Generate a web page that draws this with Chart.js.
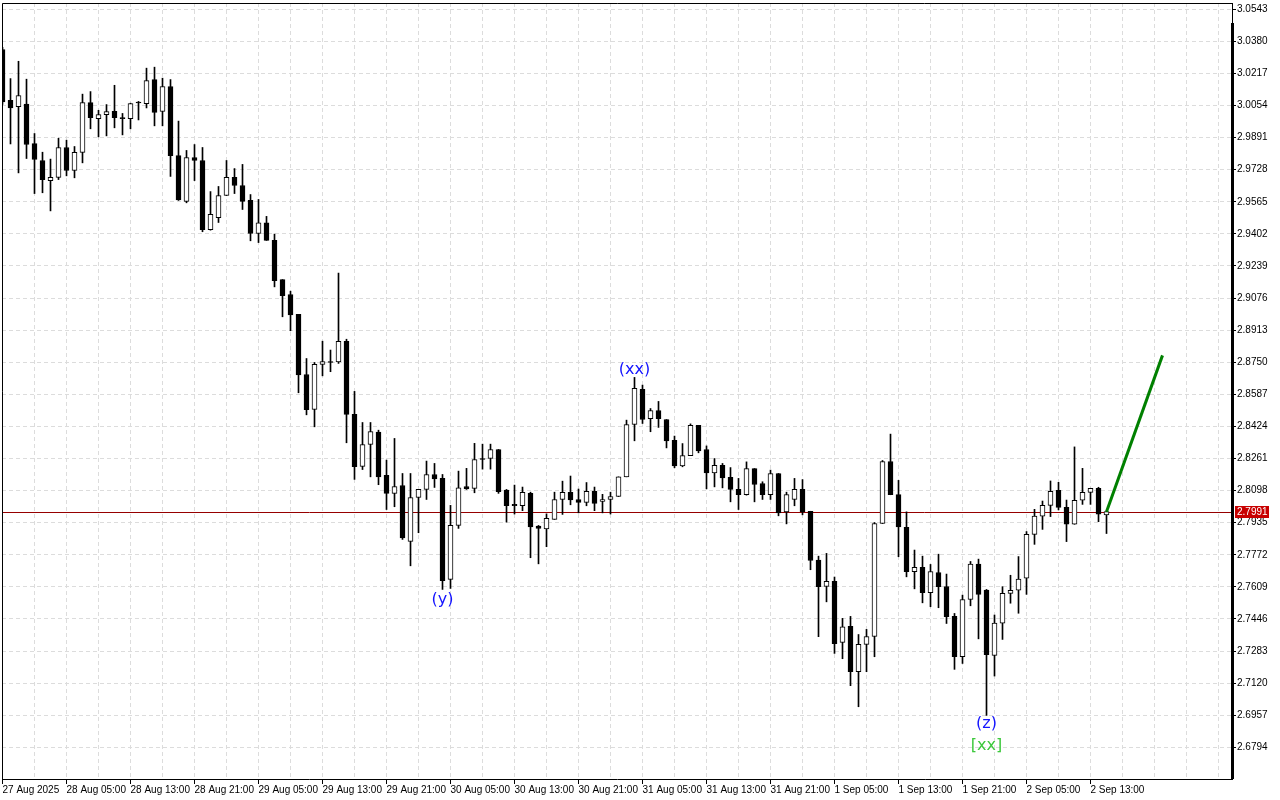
<!DOCTYPE html>
<html>
<head>
<meta charset="utf-8">
<title>H1 chart</title>
<script src="https://cdn.jsdelivr.net/npm/chart.js@4.4.1/dist/chart.umd.min.js"></script>
<style>
    html, body { margin: 0; padding: 0; background: #fff; overflow: hidden; }
    #wrap { width: 1280px; height: 800px; }
</style>
</head>
<body>
<div id="wrap"><canvas id="priceChart"></canvas></div>
<script>
// H1 candles (bar 0 = 27 Aug 21:00)
const opens = [
    3.0339, 3.0080, 3.0049, 3.0061, 2.9861, 2.9775, 2.9673, 2.9689, 2.9841, 2.9724,
    2.9816, 3.0069, 2.9988, 3.0008, 3.0025, 2.9988, 2.9988, 3.0067, 3.0064, 3.0186,
    3.0024, 3.0151, 2.9800, 2.9567, 2.9790, 2.9775, 2.9424, 2.9485, 2.9597, 2.9689,
    2.9648, 2.9572, 2.9404, 2.9458, 2.9370, 2.9170, 2.9094, 2.8993, 2.8688, 2.8510,
    2.8739, 2.8752, 2.8752, 2.8856, 2.8485, 2.8221, 2.8332, 2.8395, 2.8175, 2.8084,
    2.8124, 2.7840, 2.8063, 2.8104, 2.8180, 2.8160, 2.7647, 2.7921, 2.8119, 2.8109,
    2.8261, 2.8261, 2.8307, 2.8101, 2.8028, 2.8021, 2.8084, 2.7918, 2.7904, 2.7952,
    2.8053, 2.8089, 2.8053, 2.8038, 2.8094, 2.8043, 2.8053, 2.8068, 2.8168, 2.8434,
    2.8612, 2.8464, 2.8505, 2.8459, 2.8353, 2.8224, 2.8276, 2.8429, 2.8307, 2.8188,
    2.8226, 2.8165, 2.8104, 2.8078, 2.8210, 2.8134, 2.8078, 2.8185, 2.7990, 2.8053,
    2.8104, 2.7993, 2.7745, 2.7611, 2.7637, 2.7327, 2.7408, 2.7178, 2.7317, 2.7357,
    2.7931, 2.8246, 2.8078, 2.7911, 2.7686, 2.7708, 2.7579, 2.7682, 2.7611, 2.7459,
    2.7254, 2.7545, 2.7725, 2.7593, 2.7261, 2.7425, 2.7576, 2.7592, 2.7653, 2.7876,
    2.7968, 2.8023, 2.8100, 2.8013, 2.7927, 2.8049, 2.8089, 2.8110, 2.7975
];
const highs = [
    3.0350, 3.0191, 3.0279, 3.0188, 2.9912, 2.9817, 2.9782, 2.9888, 2.9878, 2.9846,
    3.0112, 3.0125, 3.0030, 3.0059, 3.0157, 3.0014, 3.0066, 3.0075, 3.0244, 3.0249,
    3.0193, 3.0186, 2.9975, 2.9826, 2.9856, 2.9841, 2.9617, 2.9643, 2.9775, 2.9734,
    2.9755, 2.9602, 2.9577, 2.9491, 2.9401, 2.9170, 2.9111, 2.8993, 2.8769, 2.8749,
    2.8857, 2.8812, 2.9203, 2.8867, 2.8602, 2.8444, 2.8444, 2.8405, 2.8253, 2.8363,
    2.8185, 2.8185, 2.8104, 2.8248, 2.8236, 2.8180, 2.8023, 2.8197, 2.8211, 2.8338,
    2.8334, 2.8334, 2.8307, 2.8104, 2.8126, 2.8116, 2.8090, 2.7921, 2.7980, 2.8090,
    2.8146, 2.8172, 2.8106, 2.8139, 2.8116, 2.8079, 2.8090, 2.8168, 2.8456, 2.8673,
    2.8634, 2.8515, 2.8551, 2.8459, 2.8375, 2.8337, 2.8437, 2.8429, 2.8325, 2.8261,
    2.8236, 2.8215, 2.8160, 2.8244, 2.8210, 2.8143, 2.8202, 2.8185, 2.8090, 2.8160,
    2.8154, 2.7993, 2.7765, 2.7779, 2.7659, 2.7449, 2.7459, 2.7367, 2.7393, 2.7936,
    2.8251, 2.8385, 2.8150, 2.7990, 2.7796, 2.7765, 2.7723, 2.7775, 2.7674, 2.7474,
    2.7567, 2.7738, 2.7750, 2.7596, 2.7466, 2.7610, 2.7668, 2.7763, 2.7890, 2.8003,
    2.8045, 2.8147, 2.8140, 2.8050, 2.8320, 2.8211, 2.8110, 2.8115, 2.7995
];
const lows = [
    3.0060, 2.9859, 2.9712, 2.9785, 2.9607, 2.9611, 2.9519, 2.9678, 2.9697, 2.9687,
    2.9763, 2.9936, 2.9895, 2.9900, 2.9941, 2.9905, 2.9936, 2.9981, 3.0042, 2.9951,
    2.9951, 2.9694, 2.9572, 2.9560, 2.9673, 2.9413, 2.9421, 2.9460, 2.9597, 2.9607,
    2.9526, 2.9367, 2.9358, 2.9369, 2.9133, 2.8981, 2.8910, 2.8595, 2.8483, 2.8422,
    2.8681, 2.8702, 2.8744, 2.8341, 2.8155, 2.8205, 2.8168, 2.8128, 2.8002, 2.8016,
    2.7850, 2.7716, 2.7884, 2.8053, 2.8114, 2.7596, 2.7601, 2.7906, 2.8104, 2.8087,
    2.8207, 2.8207, 2.8084, 2.7938, 2.7979, 2.7996, 2.7757, 2.7726, 2.7813, 2.7952,
    2.7977, 2.8026, 2.7985, 2.8021, 2.7996, 2.7985, 2.7979, 2.8068, 2.8168, 2.8351,
    2.8439, 2.8397, 2.8419, 2.8315, 2.8214, 2.8219, 2.8276, 2.8290, 2.8107, 2.8117,
    2.8112, 2.8041, 2.8002, 2.8075, 2.8041, 2.8053, 2.8053, 2.7970, 2.7929, 2.8021,
    2.7975, 2.7696, 2.7356, 2.7533, 2.7271, 2.7244, 2.7107, 2.7000, 2.7178, 2.7254,
    2.7931, 2.8077, 2.7762, 2.7660, 2.7599, 2.7528, 2.7508, 2.7503, 2.7423, 2.7190,
    2.7220, 2.7513, 2.7345, 2.6956, 2.7156, 2.7342, 2.7526, 2.7475, 2.7571, 2.7825,
    2.7901, 2.7966, 2.8000, 2.7839, 2.7927, 2.8028, 2.8028, 2.7940, 2.7880
];
const closes = [
    3.0073, 3.0042, 3.0105, 2.9856, 2.9780, 2.9678, 2.9689, 2.9841, 2.9724, 2.9816,
    3.0069, 2.9992, 3.0008, 3.0024, 2.9992, 2.9990, 3.0064, 3.0070, 3.0181, 3.0019,
    3.0151, 2.9800, 2.9575, 2.9790, 2.9775, 2.9423, 2.9501, 2.9597, 2.9689, 2.9648,
    2.9567, 2.9404, 2.9458, 2.9369, 2.9164, 2.9088, 2.8991, 2.8686, 2.8509, 2.8739,
    2.8754, 2.8749, 2.8856, 2.8485, 2.8219, 2.8332, 2.8398, 2.8168, 2.8084, 2.8119,
    2.7858, 2.8063, 2.8104, 2.8180, 2.8158, 2.7640, 2.7921, 2.8112, 2.8107, 2.8256,
    2.8256, 2.8307, 2.8092, 2.8021, 2.8021, 2.8089, 2.7914, 2.7906, 2.7957, 2.8053,
    2.8089, 2.8051, 2.8038, 2.8094, 2.8033, 2.8053, 2.8068, 2.8168, 2.8434, 2.8617,
    2.8459, 2.8505, 2.8463, 2.8351, 2.8224, 2.8276, 2.8429, 2.8300, 2.8188, 2.8226,
    2.8163, 2.8104, 2.8077, 2.8210, 2.8129, 2.8078, 2.8185, 2.7985, 2.8078, 2.8104,
    2.7990, 2.7743, 2.7610, 2.7637, 2.7320, 2.7406, 2.7178, 2.7317, 2.7357, 2.7931,
    2.8246, 2.8077, 2.7914, 2.7686, 2.7708, 2.7579, 2.7687, 2.7610, 2.7457, 2.7254,
    2.7545, 2.7725, 2.7571, 2.7264, 2.7425, 2.7576, 2.7592, 2.7648, 2.7876, 2.7968,
    2.8023, 2.8094, 2.8013, 2.7927, 2.8049, 2.8089, 2.8110, 2.7978, 2.7991
];

// price scale labels
const priceTicks = [
    2.6794, 2.6957, 2.7120, 2.7283, 2.7446, 2.7609, 2.7772, 2.7935, 2.8098, 2.8261,
    2.8424, 2.8587, 2.8750, 2.8913, 2.9076, 2.9239, 2.9402, 2.9565, 2.9728, 2.9891,
    3.0054, 3.0217, 3.0380, 3.0543
];
// time labels, one every 8 bars
const timeLabels = [
    '27 Aug 2025', '28 Aug 05:00', '28 Aug 13:00', '28 Aug 21:00', '29 Aug 05:00',
    '29 Aug 13:00', '29 Aug 21:00', '30 Aug 05:00', '30 Aug 13:00', '30 Aug 21:00',
    '31 Aug 05:00', '31 Aug 13:00', '31 Aug 21:00', '1 Sep 05:00', '1 Sep 13:00',
    '1 Sep 21:00', '2 Sep 05:00', '2 Sep 13:00'
];

// projection line (bar index, price)
const projBars = [138, 145];
const projPrices = [2.7991, 2.8785];

// wave marks
const waveText = ['(y)', '(xx)', '(z)', '[xx]'];
const waveBars = [55, 79, 123, 123];
const wavePrices = [2.7542, 2.8710, 2.6913, 2.6801];

const waveColors = ['#1414ff', '#1414ff', '#1414ff', '#3cc83c'];
const axisFont = { family: 'Liberation Sans', size: 10 };
const lastClose = closes[closes.length - 1];

const wicks = highs.map((h, i) => ({ x: i, y: [lows[i], h] }));
const bodies = opens.map((o, i) => ({ x: i, y: [o, closes[i]] }));
const bodyFill = opens.map((o, i) => (closes[i] - o > 0.0005 ? '#ffffff' : '#000000'));
const projection = projBars.map((b, i) => ({ x: b, y: projPrices[i] }));

function labelAt(v) {
    return v % 8 === 0 ? (timeLabels[v / 8] || '') : '';
}

const overlay = {
    id: 'overlay',
    beforeDatasetsDraw(chart) {
        const { ctx, chartArea: a, scales: { y } } = chart;
        const py = Math.round(y.getPixelForValue(lastClose)) + 0.5;
        ctx.save();
        ctx.strokeStyle = '#960000';
        ctx.lineWidth = 1;
        ctx.beginPath();
        ctx.moveTo(a.left, py);
        ctx.lineTo(a.right, py);
        ctx.stroke();
        ctx.restore();
    },
    afterDraw(chart) {
        const { ctx, chartArea: a, scales: { x, y } } = chart;
        ctx.save();
        // frame
        ctx.strokeStyle = '#000';
        ctx.lineWidth = 1;
        ctx.beginPath();
        ctx.moveTo(a.left + 0.5, a.bottom);
        ctx.lineTo(a.left + 0.5, a.top + 0.5);
        ctx.lineTo(a.right, a.top + 0.5);
        ctx.stroke();
        ctx.fillStyle = '#000';
        ctx.fillRect(a.right - 1, a.top + 20, 3, a.bottom - a.top - 20);

        // wave labels
        ctx.font = '16px "DejaVu Sans"';
        ctx.textAlign = 'center';
        ctx.textBaseline = 'middle';
        waveText.forEach((t, k) => {
            ctx.fillStyle = waveColors[k];
            ctx.fillText(t, x.getPixelForValue(waveBars[k]), y.getPixelForValue(wavePrices[k]));
        });

        // last price tag
        const py = Math.round(y.getPixelForValue(lastClose));
        ctx.fillStyle = '#c80000';
        ctx.fillRect(a.right + 3, py - 6, 34, 12);
        ctx.fillStyle = '#fff';
        ctx.font = '10px "Liberation Sans"';
        ctx.textAlign = 'left';
        ctx.fillText(lastClose.toFixed(4), a.right + 5, py + 0.5);
        ctx.restore();
    }
};

new Chart(document.getElementById('priceChart'), {
    type: 'bar',
    data: {
        datasets: [
            {
                type: 'line',
                data: projection,
                borderColor: '#008000',
                borderWidth: 3,
                pointRadius: 0,
                order: 0
            },
            {
                data: bodies,
                backgroundColor: bodyFill,
                borderColor: '#000',
                borderWidth: 1,
                borderSkipped: false,
                barThickness: 5,
                minBarLength: 1,
                grouped: false,
                order: 1
            },
            {
                data: wicks,
                backgroundColor: '#000',
                borderWidth: 0,
                barThickness: 1,
                grouped: false,
                order: 2
            }
        ]
    },
    options: {
        responsive: true,
        maintainAspectRatio: false,
        animation: false,
        events: [],
        layout: { padding: { left: 2, top: 3, right: 0, bottom: 0 } },
        plugins: { legend: { display: false }, tooltip: { enabled: false } },
        scales: {
            x: {
                type: 'linear',
                min: -0.0625,
                max: 153.6875,
                offset: false,
                afterBuildTicks: s => {
                    s.ticks = [];
                    for (let v = 0; v <= 152; v += 4) s.ticks.push({ value: v });
                },
                afterFit: s => { s.height = 21; s.paddingLeft = 0; s.paddingRight = 0; },
                grid: {
                    offset: false,
                    color: '#dcdcdc',
                    tickLength: 5,
                    tickColor: c => (c.tick && labelAt(c.tick.value) ? '#000' : 'rgba(0,0,0,0)')
                },
                border: { color: '#000', dash: [4, 3] },
                ticks: {
                    autoSkip: false,
                    maxRotation: 0,
                    minRotation: 0,
                    align: 'start',
                    padding: 0,
                    color: '#000',
                    font: axisFont,
                    callback: v => labelAt(v)
                }
            },
            y: {
                position: 'right',
                min: 2.6633,
                max: 3.0575,
                afterBuildTicks: s => { s.ticks = priceTicks.map(v => ({ value: v })); },
                afterFit: s => { s.width = 48; s.paddingTop = 0; s.paddingBottom = 0; },
                grid: { color: '#dcdcdc', tickLength: 4, tickColor: '#000' },
                border: { color: '#000', dash: [4, 3] },
                ticks: {
                    autoSkip: false,
                    padding: 1,
                    color: '#000',
                    font: axisFont,
                    callback: v => v.toFixed(4)
                }
            }
        }
    },
    plugins: [overlay]
});
</script>
</body>
</html>
